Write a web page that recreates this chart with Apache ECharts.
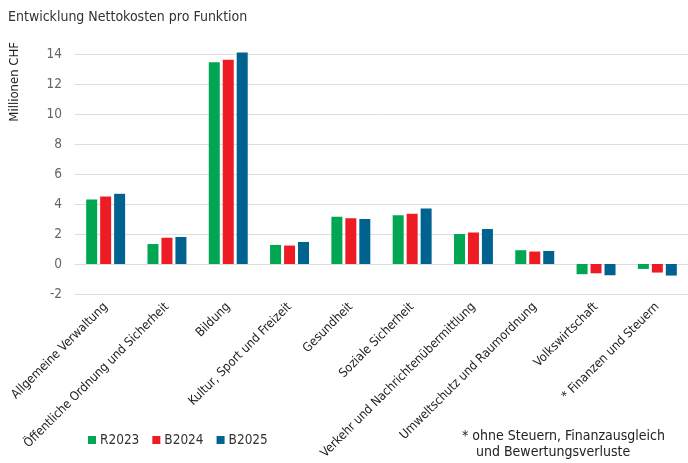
<!DOCTYPE html>
<html>
<head>
<meta charset="utf-8">
<script src="https://cdn.jsdelivr.net/npm/echarts@6/dist/echarts.min.js"></script>
<style>
  html, body { margin: 0; padding: 0; background: #fff; }
  #chart { width: 688px; height: 463px; }
</style>
</head>
<body>
<div id="chart"></div>
<script>
// Net costs per function, in millions of CHF
const categories = [
  'Allgemeine Verwaltung',
  'Öffentliche Ordnung und Sicherheit',
  'Bildung',
  'Kultur, Sport und Freizeit',
  'Gesundheit',
  'Soziale Sicherheit',
  'Verkehr und Nachrichtenübermittlung',
  'Umweltschutz und Raumordnung',
  'Volkswirtschaft',
  '* Finanzen und Steuern'
];
const r2023 = [4.3, 1.33, 13.45, 1.27, 3.15, 3.25, 2.0, 0.92, -0.68, -0.33];
const b2024 = [4.5, 1.75, 13.62, 1.23, 3.05, 3.35, 2.1, 0.83, -0.62, -0.57];
const b2025 = [4.68, 1.8, 14.1, 1.47, 3.0, 3.7, 2.33, 0.87, -0.75, -0.77];
const yTicks = { min: -2, max: 14, step: 2 };

const FONT = 'DejaVu Sans Condensed, DejaVu Sans, sans-serif';
const chart = echarts.init(document.getElementById('chart'));

function barSeries(name, data, color) {
  return {
    name: name,
    type: 'bar',
    data: data,
    barWidth: 11,
    barGap: '27%',
    clip: false,
    itemStyle: { color: color },
    emphasis: { disabled: true }
  };
}

chart.setOption({
  animation: false,
  textStyle: { fontFamily: FONT },
  title: {
    text: 'Entwicklung Nettokosten pro Funktion',
    left: 3,
    top: 5,
    textStyle: { fontFamily: FONT, fontSize: 14, fontWeight: 'normal', color: '#333' }
  },
  legend: {
    left: 83,
    top: 428,
    icon: 'rect',
    itemWidth: 8,
    itemHeight: 8,
    itemGap: 13,
    textStyle: { fontFamily: FONT, fontSize: 13.5, color: '#333', padding: [0, 0, 0, -1] },
    data: ['R2023', 'B2024', 'B2025']
  },
  // plot area runs slightly past the right edge of the canvas
  grid: { left: 75, width: 620, top: 54, bottom: 169, containLabel: false },
  xAxis: {
    type: 'category',
    data: categories,
    axisLine: { show: false },
    axisTick: { show: false },
    axisLabel: {
      rotate: 45,
      interval: 0,
      margin: 11,
      fontFamily: FONT,
      fontSize: 12.5,
      color: '#222'
    }
  },
  yAxis: {
    type: 'value',
    min: yTicks.min,
    max: yTicks.max,
    interval: yTicks.step,
    axisLine: { show: false },
    axisTick: { show: false },
    axisLabel: { margin: 13, fontFamily: FONT, fontSize: 13.5, color: '#666' },
    splitLine: { lineStyle: { color: '#dedede', width: 1 } }
  },
  graphic: [
    {
      type: 'text',
      left: 8,
      top: 42,
      rotation: Math.PI / 2,
      style: { text: 'Millionen CHF', font: '13px ' + FONT, fill: '#222' }
    },
    {
      type: 'text',
      left: 462,
      top: 429,
      style: { text: '* ohne Steuern, Finanzausgleich', font: '14px ' + FONT, fill: '#222' }
    },
    {
      type: 'text',
      left: 476,
      top: 445,
      style: { text: 'und Bewertungsverluste', font: '14px ' + FONT, fill: '#222' }
    }
  ],
  series: [
    barSeries('R2023', r2023, '#00a651'),
    barSeries('B2024', b2024, '#ed1c24'),
    barSeries('B2025', b2025, '#00628f')
  ]
});
</script>
</body>
</html>
